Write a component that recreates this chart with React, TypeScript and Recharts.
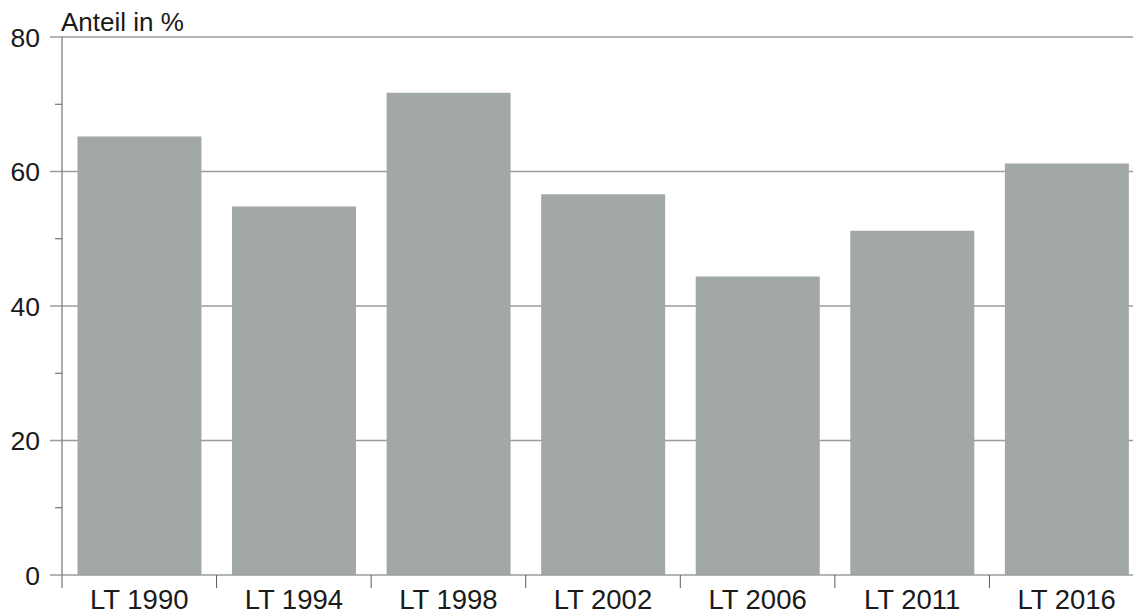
import { Bar, BarChart, CartesianGrid, XAxis, YAxis } from "recharts";

const categories = ["LT 1990", "LT 1994", "LT 1998", "LT 2002", "LT 2006", "LT 2011", "LT 2016"];
const shares = [65.2, 54.8, 71.7, 56.6, 44.4, 51.2, 61.2];
const yTicks = [0, 10, 20, 30, 40, 50, 60, 70, 80];
const majorTicks = [0, 20, 40, 60, 80];

const data = categories.map((name, i) => ({ name, value: shares[i] }));

const FONT = "'Liberation Sans', Arial, sans-serif";
const TEXT = "#1a1a1a";
const GRID = "#9c9c9c";
const AXIS = "#5a5a5a";

function YTick(props: any) {
  const { x, y, payload } = props;
  const major = majorTicks.includes(payload.value);
  return (
    <g>
      <line x1={x - (major ? 12 : 7)} x2={x} y1={y} y2={y} stroke={major ? GRID : AXIS} strokeWidth={major ? 1.5 : 1} />
      {major && (
        <text x={x - 22} y={y} dy="0.36em" textAnchor="end" fontFamily={FONT} fontSize={26.5} fill={TEXT}>
          {payload.value}
        </text>
      )}
    </g>
  );
}

function XTick(props: any) {
  const { x, y, payload } = props;
  const half = payload.offset ?? 0;
  return (
    <g>
      <line x1={x - half} x2={x - half} y1={y} y2={y + 13} stroke={AXIS} strokeWidth={1} />
      <text x={x} y={y + 34} textAnchor="middle" fontFamily={FONT} fontSize={27.5} fill={TEXT}>
        {payload.value}
      </text>
    </g>
  );
}

function UnitLabel(props: any) {
  const { viewBox } = props;
  return (
    <text x={viewBox.x + viewBox.width - 1} y={viewBox.y - 6} fontFamily={FONT} fontSize={26} fill={TEXT}>
      Anteil in %
    </text>
  );
}

export default function App() {
  return (
    <div style={{ position: "fixed", left: 0, top: 0, width: 1133, height: 616, overflow: "hidden", background: "#fff" }}>
      <BarChart width={1144} height={616} data={data} margin={{ top: 37, right: 0, bottom: 0, left: 0 }} barCategoryGap="10%">
        <CartesianGrid vertical={false} stroke={GRID} strokeWidth={1.5} horizontalValues={[20, 40, 60, 80]} />
        <XAxis
          dataKey="name"
          height={41}
          interval={0}
          tickLine={false}
          tickSize={0}
          tickMargin={0}
          axisLine={{ stroke: GRID, strokeWidth: 1.5 }}
          tick={<XTick />}
        />
        <YAxis
          width={62}
          domain={[0, 80]}
          ticks={yTicks}
          interval={0}
          tickLine={false}
          tickSize={0}
          tickMargin={0}
          axisLine={{ stroke: AXIS, strokeWidth: 1 }}
          tick={<YTick />}
          label={<UnitLabel />}
        />
        <Bar dataKey="value" fill="#a2a8a4" isAnimationActive={false} />
      </BarChart>
    </div>
  );
}
